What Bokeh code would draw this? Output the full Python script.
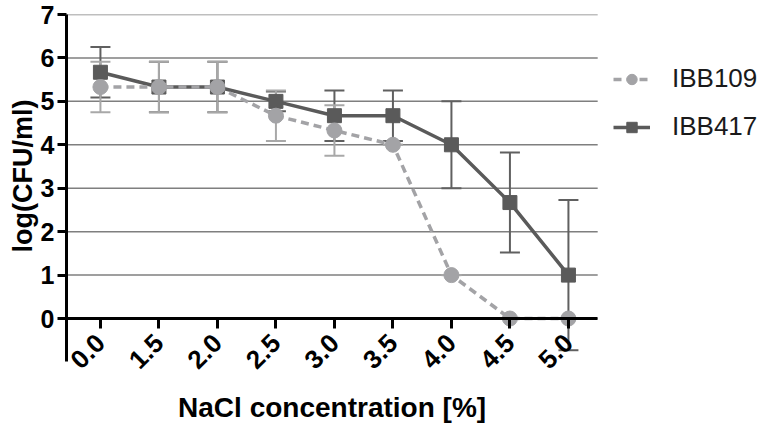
import math
from bokeh.plotting import figure
from bokeh.models import (ColumnDataSource, FixedTicker, Range1d, Whisker, TeeHead,
                          Legend, LegendItem, Title, Label)
from bokeh.embed import file_html
from bokeh.resources import INLINE

# ---- data ----
nacl_labels = ["0.0", "1.5", "2.0", "2.5", "3.0", "3.5", "4.0", "4.5", "5.0"]
ibb109 = [5.33, 5.33, 5.33, 4.67, 4.33, 4.0, 1.0, 0.0, 0.0]
ibb109_err = [0.58, 0.58, 0.58, 0.58, 0.58, 0.0, 0.0, 0.0, 0.0]
ibb417 = [5.67, 5.33, 5.33, 5.0, 4.67, 4.67, 4.0, 2.67, 1.0]
ibb417_err = [0.58, 0.58, 0.58, 0.23, 0.58, 0.58, 1.0, 1.15, 1.73]
y_ticks = [0, 1, 2, 3, 4, 5, 6, 7]

idx = list(range(len(nacl_labels)))

def make_src(vals, errs):
    return ColumnDataSource(dict(
        x=idx, y=vals,
        upper=[v + e for v, e in zip(vals, errs)],
        lower=[v - e for v, e in zip(vals, errs)],
    ))

src109 = make_src(ibb109, ibb109_err)
src417 = make_src(ibb417, ibb417_err)

C109 = "#a3a3a6"
C109_ERR = "#a8a8a8"
C417 = "#5a5a5a"
C417_ERR = "#606060"
GRID = "#7f7f7f"
FONT = "Liberation Sans"

W, H = 767, 424
TOP = 14
LEFT = 66
X_START = -0.58                 # left edge of the frame (index units)
X_AXIS_END = len(idx) - 0.5     # where the x axis / grid stop
X_END = X_START + (W - LEFT) / 58.5
Y_START, Y_END = -2.44, 7
Y_AXIS_BOTTOM = -1.0

xr = Range1d(X_START, X_END)
yr = Range1d(Y_START, Y_END)

p = figure(width=W, height=H, x_range=xr, y_range=yr,
           output_backend="svg", toolbar_location=None,
           min_border_left=LEFT, min_border_right=0,
           min_border_top=TOP, min_border_bottom=0)
p.outline_line_color = None
p.background_fill_color = "white"
p.xgrid.visible = False
p.ygrid.visible = False

# horizontal grid lines, stopping where the x axis stops
grid_src = ColumnDataSource(dict(x0=[X_START] * len(y_ticks), x1=[X_AXIS_END] * len(y_ticks),
                                 y=y_ticks))
p.segment(x0="x0", y0="y", x1="x1", y1="y", source=grid_src,
          line_color=GRID, line_width=1.5, level="underlay")

# y axis
ya = p.yaxis[0]
ya.ticker = FixedTicker(ticks=y_ticks)
ya.bounds = (Y_AXIS_BOTTOM, Y_END)
ya.axis_line_width = 3
ya.axis_line_color = "black"
ya.major_tick_line_width = 3
ya.major_tick_line_color = "black"
ya.major_tick_out = 9
ya.major_tick_in = 0
ya.minor_tick_line_color = None
ya.major_label_standoff = 3
ya.major_label_text_font = FONT
ya.major_label_text_font_style = "bold"
ya.major_label_text_font_size = "25px"
ya.major_label_text_color = "black"

# y axis title, placed beside the 0..7 part of the axis
ylab = Title(text="log(CFU/ml)", align="left", offset=H - 252,
             text_font=FONT, text_font_style="bold", text_font_size="27px",
             text_color="black", standoff=0)
p.add_layout(ylab, "left")

# x axis placed at y = 0
xa = p.xaxis[0]
xa.fixed_location = 0
xa.bounds = (X_START, X_AXIS_END)
xa.ticker = FixedTicker(ticks=idx)
xa.major_label_overrides = {i: lab for i, lab in zip(idx, nacl_labels)}
xa.major_label_orientation = math.pi / 4
xa.axis_line_width = 3
xa.axis_line_color = "black"
xa.major_tick_line_width = 3
xa.major_tick_line_color = "black"
xa.major_tick_out = 10
xa.major_tick_in = 0
xa.minor_tick_line_color = None
xa.major_label_standoff = 10
xa.major_label_text_font = FONT
xa.major_label_text_font_style = "bold"
xa.major_label_text_font_size = "26px"
xa.major_label_text_color = "black"

xlab = Label(x=(X_START + X_AXIS_END) / 2, y=17, x_units="data", y_units="screen",
             text="NaCl concentration [%]", text_align="center",
             text_baseline="middle", text_font=FONT, text_font_style="bold",
             text_font_size="28px", text_color="black")
p.add_layout(xlab)

# IBB417 (drawn first)
w417 = Whisker(base="x", upper="upper", lower="lower", source=src417,
               line_color=C417_ERR, line_width=2,
               upper_head=TeeHead(size=20, line_color=C417_ERR, line_width=2),
               lower_head=TeeHead(size=20, line_color=C417_ERR, line_width=2))
p.add_layout(w417)
l417 = p.line("x", "y", source=src417, line_color=C417, line_width=3.5)
s417 = p.scatter("x", "y", source=src417, marker="square", size=14,
                 fill_color=C417, line_color=C417)

# IBB109
w109 = Whisker(base="x", upper="upper", lower="lower", source=src109,
               line_color=C109_ERR, line_width=2,
               upper_head=TeeHead(size=20, line_color=C109_ERR, line_width=2),
               lower_head=TeeHead(size=20, line_color=C109_ERR, line_width=2))
p.add_layout(w109)
l109 = p.line("x", "y", source=src109, line_color=C109, line_width=3.5,
              line_dash="8 5")
s109 = p.scatter("x", "y", source=src109, marker="circle", size=15,
                 fill_color=C109, line_color=C109)

legend = Legend(items=[
    LegendItem(label="IBB109", renderers=[l109, s109]),
    LegendItem(label="IBB417", renderers=[l417, s417]),
], location=(547, 282))
legend.margin = 0
legend.padding = 0
legend.border_line_color = None
legend.background_fill_alpha = 0
legend.glyph_width = 37
legend.glyph_height = 26
legend.label_height = 26
legend.spacing = 17
legend.label_standoff = 22
legend.label_text_font = FONT
legend.label_text_font_size = "26px"
legend.label_text_color = "#1a1a1a"
p.add_layout(legend, "center")

open("out.html", "w").write(file_html(p, INLINE))
